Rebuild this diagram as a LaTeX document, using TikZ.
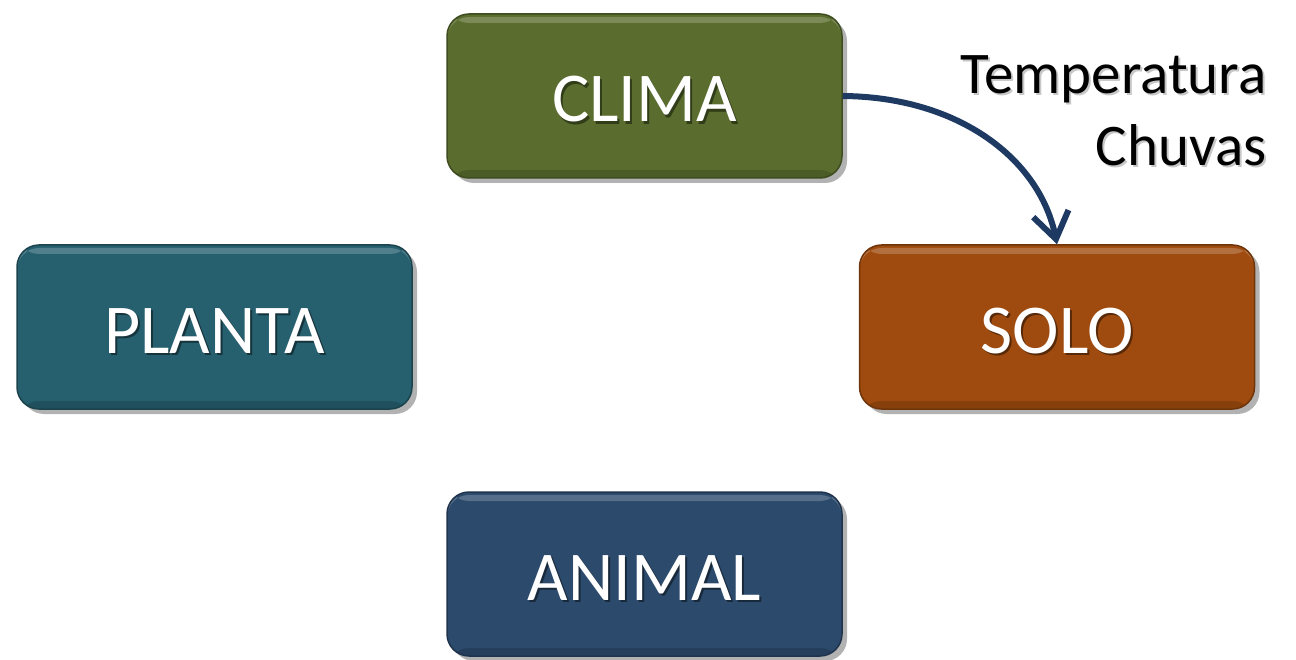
\documentclass[tikz,border=0pt]{standalone}
\usepackage{fontspec}
\setmainfont{Carlito}
\usetikzlibrary{arrows.meta,shadows}

% text with a soft offset shadow behind it
\newcommand\dropped[2]{\makebox[0pt][l]{\kern2pt\raisebox{-2.5pt}{\textcolor{#1}{#2}}}#2}

\definecolor{climafill}{HTML}{5A6D2E}
\definecolor{plantafill}{HTML}{265F6E}
\definecolor{solofill}{HTML}{9F4B0F}
\definecolor{animalfill}{HTML}{2C4A6C}
\definecolor{arrowblue}{HTML}{1E3A62}

\tikzset{
  card/.style={
    rounded corners=22pt, minimum width=395pt, minimum height=164pt,
    fill=#1, draw=#1!70!black, line width=1.5pt, text=white,
    font=\fontsize{70}{80}\selectfont, text height=52pt, text depth=0pt,
    drop shadow={shadow xshift=5pt, shadow yshift=-5pt, opacity=0.3, fill=black},
    path picture={
      \fill[white,opacity=0.2] ([yshift=-3pt]path picture bounding box.north west)
        rectangle ([yshift=-9pt]path picture bounding box.north east);
      \fill[black,opacity=0.15] ([yshift=8pt]path picture bounding box.south west)
        rectangle (path picture bounding box.south east);
    }
  },
  link/.style={arrowblue, line width=6pt,
    -{Straight Barb[length=26pt,width=36pt,line width=6pt]}},
  note/.style={font=\fontsize{59}{72}\selectfont, align=right, anchor=north east}
}

\begin{document}
\begin{tikzpicture}[x=1pt,y=-1pt]
  \useasboundingbox (0,0) rectangle (1296,660);

  \node[card=climafill]  (clima)  at (644.5,96)  {\dropped{climafill!55!black}{CLIMA}};
  \node[card=plantafill] (planta) at (214.5,327) {\dropped{plantafill!55!black}{PLANTA}};
  \node[card=solofill]   (solo)   at (1057,327)  {\dropped{solofill!55!black}{SOLO}};
  \node[card=animalfill] (animal) at (644.5,574) {\dropped{animalfill!55!black}{ANIMAL}};

  \draw[link] (clima.east) .. controls (960,97) and (1040,160) .. (solo.north);

  \node[note] (weather) at (1270,52) {\dropped{black!22}{Temperatura}\\\dropped{black!22}{Chuvas}};
\end{tikzpicture}
\end{document}
